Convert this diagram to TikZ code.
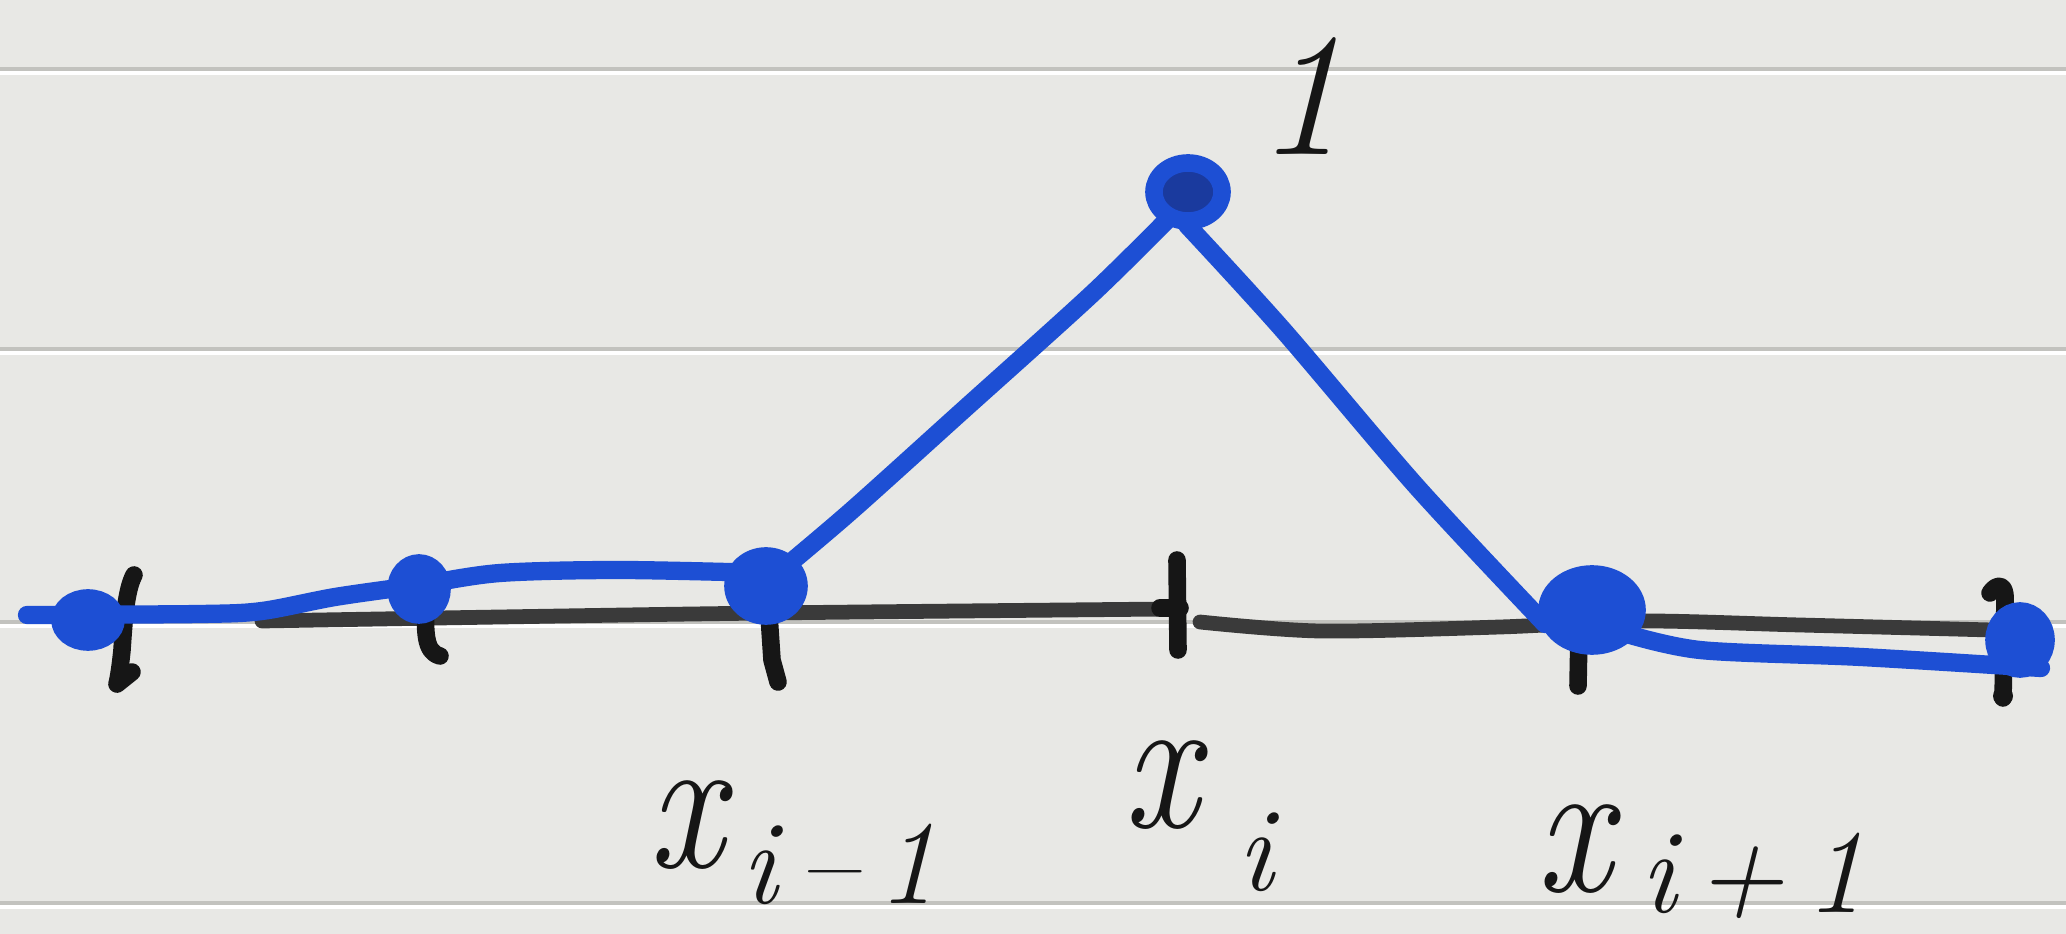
\documentclass[tikz,border=0pt]{standalone}
\usepackage{fontspec}
\usetikzlibrary{shapes.geometric}
\definecolor{paper}{HTML}{E8E8E5}
\definecolor{rulegray}{HTML}{C2C2BE}
\definecolor{bluepen}{HTML}{1D4FD4}
\definecolor{knotdark}{HTML}{1A3A9E}
\definecolor{inkc}{HTML}{161616}
\definecolor{axisc}{HTML}{3A3A3A}
% #1 gap after x, #2 drop of subscript, #3 subscript
\newcommand{\hx}[3]{{\fontsize{56}{56}\selectfont\itshape\scalebox{0.85}[1]{x}}\hspace{#1}\raisebox{-#2}{\fontsize{34}{34}\selectfont\itshape #3}}
\tikzset{
  ruleline/.style={draw=rulegray, line width=1.3pt},
  rulehi/.style={draw=white, line width=1.2pt},
  axisline/.style={draw=axisc, line width=4.2pt, line cap=round, line join=round},
  tickmark/.style={draw=inkc, line width=5pt, line cap=round, line join=round},
  bluepath/.style={draw=bluepen, line width=5.2pt, line cap=round, line join=round},
  knot/.style={ellipse, draw=bluepen, fill=bluepen, line width=5pt, inner sep=0pt},
  darkknot/.style={knot, fill=knotdark},
  handlabel/.style={text=inkc, inner sep=0pt, anchor=base west}
}
\begin{document}
\begin{tikzpicture}[x=0.01cm, y=-0.01cm]
\fill[paper] (0,0) rectangle (2066,934);
\useasboundingbox (0,0) rectangle (2066,934);
% ruled paper lines
\foreach \yy in {69,349,622,903}{
  \draw[ruleline] (0,\yy) -- (2066,\yy);
  \draw[rulehi] (0,\yy+4) -- (2066,\yy+4);
}
% axis
\coordinate (a0) at (262,621);
\coordinate (a1) at (500,617);
\coordinate (a2) at (768,613);
\coordinate (a3) at (1170,609);
\coordinate (a4) at (1200,622);
\coordinate (a5) at (1320,631);
\coordinate (a6) at (1500,627);
\coordinate (a7) at (1640,621);
\coordinate (a8) at (1800,625);
\coordinate (a9) at (2030,631);
\draw[axisline] plot[smooth, tension=0.5] coordinates {(a0) (a1) (a2) (a3)};
\draw[axisline] plot[smooth, tension=0.5] coordinates {(a4) (a5) (a6) (a7) (a8) (a9)};
% ticks
\draw[tickmark] (134,575) .. controls (126,590) and (124,620) .. (122,650) .. controls (120,670) and (118,680) .. (117,684) -- (132,672);
\draw[tickmark] (426,600) .. controls (425,630) and (424,652) .. (440,656);
\draw[tickmark] (768,600) -- (772,660) -- (778,682);
\draw[tickmark] (1177,560) -- (1178,650);
\draw[tickmark] (1160,608) -- (1180,608);
\draw[tickmark] (1580,580) -- (1578,686);
\draw[tickmark] (1990,593) .. controls (1996,584) and (2006,582) .. (2005,600) -- (2003,698);
\fill[inkc] (2003,696) circle (10);
% blue hat function
\coordinate (b0) at (27,615);
\coordinate (b1) at (200,614);
\coordinate (b2) at (262,611);
\coordinate (b3) at (335,597);
\coordinate (b4) at (419,585);
\coordinate (b5) at (500,573);
\coordinate (b6) at (620,570);
\coordinate (b7) at (766,573);
\coordinate (c0) at (772,578);
\coordinate (c1) at (850,512);
\coordinate (c2) at (960,413);
\coordinate (c3) at (1093,293);
\coordinate (c4) at (1175,212);
\coordinate (d0) at (1187,225);
\coordinate (d1) at (1283,330);
\coordinate (d2) at (1417,487);
\coordinate (d3) at (1545,624);
\coordinate (e0) at (1620,632);
\coordinate (e1) at (1700,650);
\coordinate (e2) at (1861,657);
\coordinate (e3) at (2041,668);
\draw[bluepath] plot[smooth, tension=0.5] coordinates {(b0) (b1) (b2) (b3) (b4) (b5) (b6) (b7)};
\draw[bluepath] plot[smooth, tension=0.5] coordinates {(c0) (c1) (c2) (c3) (c4)};
\draw[bluepath] plot[smooth, tension=0.5] coordinates {(d0) (d1) (d2) (d3)};
\draw[bluepath] plot[smooth, tension=0.5] coordinates {(e0) (e1) (e2) (e3)};
% knots
\node[knot, minimum width=0.56cm, minimum height=0.44cm] (k0) at (88,620) {};
\node[knot, minimum width=0.46cm, minimum height=0.52cm] (k1) at (419,589) {};
\node[knot, minimum width=0.66cm, minimum height=0.6cm] (k2) at (766,586) {};
\node[darkknot, minimum width=0.68cm, minimum height=0.58cm] (k3) at (1188,192) {};
\node[knot, minimum width=0.9cm, minimum height=0.72cm] (k4) at (1592,610) {};
\node[knot, minimum width=0.52cm, minimum height=0.58cm] (k5) at (2020,640) {};
% labels
\node[text=inkc, inner sep=0pt, font=\fontsize{50}{50}\selectfont\itshape] (one) at (1300,96) {1};
\node[handlabel] (lxm) at (648,868) {\hx{5pt}{0.35cm}{i\,–\,1}};
\node[handlabel] (lx) at (1123,828) {\hx{11pt}{0.62cm}{i}};
\node[handlabel] (lxp) at (1536,892) {\hx{8pt}{0.2cm}{i\,+\,1}};
\end{tikzpicture}
\end{document}
